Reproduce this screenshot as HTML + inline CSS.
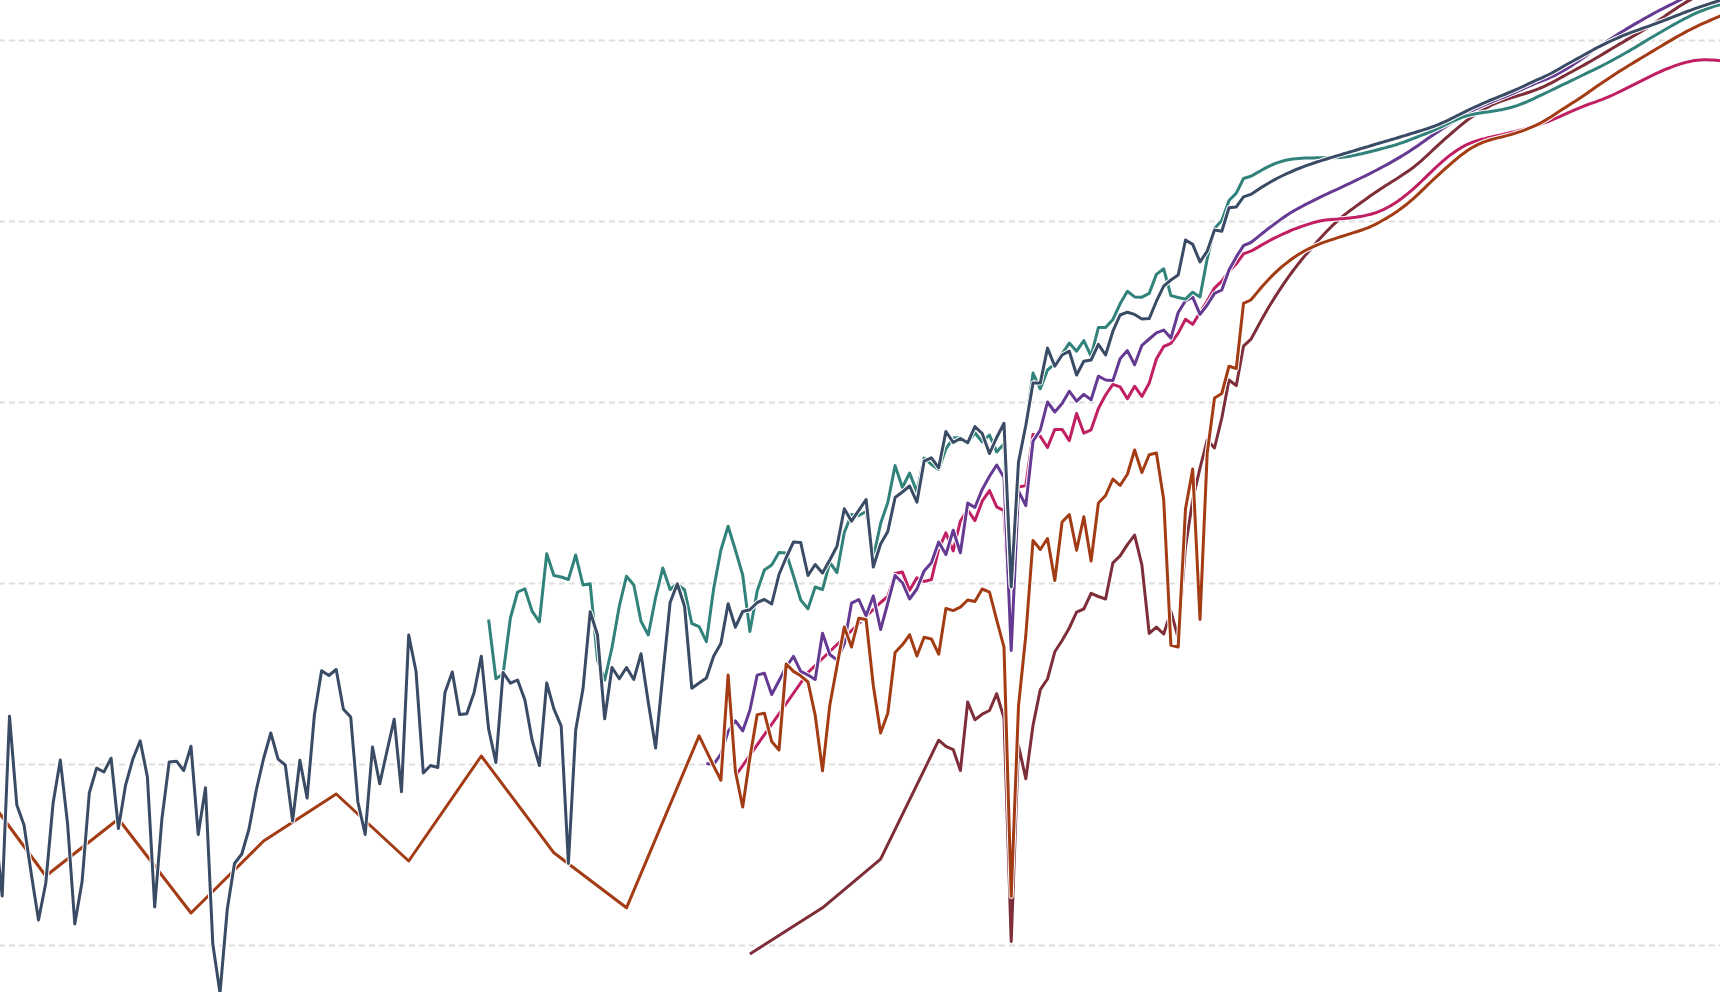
<!DOCTYPE html>
<html lang="en"><head><meta charset="utf-8"><title>Chart</title>
<style>html,body{margin:0;padding:0;background:#fff;overflow:hidden}svg{display:block}</style>
</head><body>
<svg width="1720" height="992" viewBox="0 0 1720 992">
<g stroke="#dedede" stroke-width="2" stroke-dasharray="6 4" stroke-dashoffset="1.2" fill="none">
<line x1="0" y1="40.4" x2="1720" y2="40.4"/>
<line x1="0" y1="221.4" x2="1720" y2="221.4"/>
<line x1="0" y1="402.4" x2="1720" y2="402.4"/>
<line x1="0" y1="583.4" x2="1720" y2="583.4"/>
<line x1="0" y1="764.4" x2="1720" y2="764.4"/>
<line x1="0" y1="945.4" x2="1720" y2="945.4"/>
</g>
<g fill="none" stroke-linejoin="round">
<path d="M749.9,954.0L822.5,907.8L880.6,859.2L938.7,740.2L945.9,746.4L953.2,749.6L960.4,770.5L967.7,702.0L974.9,719.8L982.2,714.2L989.5,710.5L996.7,693.7L1004.0,718.0L1011.2,941.5L1018.5,745.5L1025.8,778.8L1033.0,725.5L1040.3,689.6L1047.5,679.0L1054.8,651.8L1062.1,640.5L1069.3,628.0L1076.6,612.1L1083.8,609.0L1091.1,593.4L1098.4,596.5L1105.6,599.0L1112.9,562.8L1120.1,555.9L1127.4,544.6L1134.6,535.2L1141.9,565.2L1149.2,633.4L1156.4,627.1L1163.7,634.0L1170.9,611.5L1178.2,638.0L1185.5,547.0L1192.7,500.0L1200.0,468.2L1207.2,440.0L1214.5,448.0L1221.8,418.0L1229.0,380.0L1236.3,385.6L1243.5,346.2L1250.8,339.4L1253.8,334.1L1256.8,328.5L1259.8,322.9L1262.8,317.5L1265.8,312.2L1268.8,307.1L1271.8,302.2L1274.8,297.4L1277.8,292.7L1280.8,288.1L1283.8,283.7L1286.8,279.3L1289.8,275.1L1292.8,271.0L1295.8,267.1L1298.8,263.2L1301.8,259.5L1304.8,255.9L1307.8,252.4L1310.8,248.9L1313.8,245.5L1316.8,242.1L1319.8,238.7L1322.8,235.5L1325.8,232.3L1328.8,229.2L1331.8,226.2L1334.8,223.4L1337.8,220.6L1340.8,218.0L1343.8,215.5L1346.8,213.1L1349.8,210.8L1352.8,208.6L1355.8,206.4L1358.8,204.2L1361.8,202.0L1364.8,199.9L1367.8,197.7L1370.8,195.6L1373.8,193.6L1376.8,191.5L1379.8,189.5L1382.8,187.6L1385.8,185.6L1388.8,183.7L1391.8,181.8L1394.8,179.9L1397.8,178.0L1400.8,176.0L1403.8,174.1L1406.8,172.1L1409.8,170.0L1412.8,167.8L1415.8,165.4L1418.8,162.9L1421.8,160.3L1424.8,157.5L1427.8,154.8L1430.8,152.0L1433.8,149.2L1436.8,146.4L1439.8,143.6L1442.8,140.9L1445.8,138.2L1448.8,135.6L1451.8,133.0L1454.8,130.3L1457.8,127.8L1460.8,125.3L1463.8,122.9L1466.8,120.5L1469.8,118.3L1472.8,116.2L1475.8,114.2L1478.8,112.3L1481.8,110.4L1484.8,108.7L1487.8,107.1L1490.8,105.5L1493.8,104.1L1496.8,102.9L1499.8,101.7L1502.8,100.6L1505.8,99.6L1508.8,98.6L1511.8,97.6L1514.8,96.7L1517.8,95.8L1520.8,94.9L1523.8,94.0L1526.8,93.0L1529.8,92.0L1532.8,90.9L1535.8,89.8L1538.8,88.7L1541.8,87.5L1544.8,86.1L1547.8,84.7L1550.8,83.2L1553.8,81.6L1556.8,80.0L1559.8,78.3L1562.8,76.6L1565.8,75.0L1568.8,73.3L1571.8,71.7L1574.8,70.0L1577.8,68.4L1580.8,66.7L1583.8,65.1L1586.8,63.4L1589.8,61.7L1592.8,60.0L1595.8,58.2L1598.8,56.5L1601.8,54.7L1604.8,52.9L1607.8,51.1L1610.8,49.3L1613.8,47.5L1616.8,45.7L1619.8,43.9L1622.8,42.2L1625.8,40.4L1628.8,38.6L1631.8,36.9L1634.8,35.1L1637.8,33.4L1640.8,31.6L1643.8,29.9L1646.8,28.0L1649.8,26.2L1652.8,24.2L1655.8,22.3L1658.8,20.3L1661.8,18.2L1664.8,16.2L1667.8,14.1L1670.8,12.1L1673.8,10.0L1676.8,8.0L1679.8,6.1L1682.8,4.2L1685.8,2.4L1688.8,0.6L1691.8,-1.1L1694.8,-2.9L1697.8,-4.7L1700.8,-6.5L1703.8,-8.3L1706.8,-10.1L1709.8,-11.9" stroke="#fff" stroke-width="5.00"/>
<path d="M749.9,954.0L822.5,907.8L880.6,859.2L938.7,740.2L945.9,746.4L953.2,749.6L960.4,770.5L967.7,702.0L974.9,719.8L982.2,714.2L989.5,710.5L996.7,693.7L1004.0,718.0L1011.2,941.5L1018.5,745.5L1025.8,778.8L1033.0,725.5L1040.3,689.6L1047.5,679.0L1054.8,651.8L1062.1,640.5L1069.3,628.0L1076.6,612.1L1083.8,609.0L1091.1,593.4L1098.4,596.5L1105.6,599.0L1112.9,562.8L1120.1,555.9L1127.4,544.6L1134.6,535.2L1141.9,565.2L1149.2,633.4L1156.4,627.1L1163.7,634.0L1170.9,611.5L1178.2,638.0L1185.5,547.0L1192.7,500.0L1200.0,468.2L1207.2,440.0L1214.5,448.0L1221.8,418.0L1229.0,380.0L1236.3,385.6L1243.5,346.2L1250.8,339.4L1253.8,334.1L1256.8,328.5L1259.8,322.9L1262.8,317.5L1265.8,312.2L1268.8,307.1L1271.8,302.2L1274.8,297.4L1277.8,292.7L1280.8,288.1L1283.8,283.7L1286.8,279.3L1289.8,275.1L1292.8,271.0L1295.8,267.1L1298.8,263.2L1301.8,259.5L1304.8,255.9L1307.8,252.4L1310.8,248.9L1313.8,245.5L1316.8,242.1L1319.8,238.7L1322.8,235.5L1325.8,232.3L1328.8,229.2L1331.8,226.2L1334.8,223.4L1337.8,220.6L1340.8,218.0L1343.8,215.5L1346.8,213.1L1349.8,210.8L1352.8,208.6L1355.8,206.4L1358.8,204.2L1361.8,202.0L1364.8,199.9L1367.8,197.7L1370.8,195.6L1373.8,193.6L1376.8,191.5L1379.8,189.5L1382.8,187.6L1385.8,185.6L1388.8,183.7L1391.8,181.8L1394.8,179.9L1397.8,178.0L1400.8,176.0L1403.8,174.1L1406.8,172.1L1409.8,170.0L1412.8,167.8L1415.8,165.4L1418.8,162.9L1421.8,160.3L1424.8,157.5L1427.8,154.8L1430.8,152.0L1433.8,149.2L1436.8,146.4L1439.8,143.6L1442.8,140.9L1445.8,138.2L1448.8,135.6L1451.8,133.0L1454.8,130.3L1457.8,127.8L1460.8,125.3L1463.8,122.9L1466.8,120.5L1469.8,118.3L1472.8,116.2L1475.8,114.2L1478.8,112.3L1481.8,110.4L1484.8,108.7L1487.8,107.1L1490.8,105.5L1493.8,104.1L1496.8,102.9L1499.8,101.7L1502.8,100.6L1505.8,99.6L1508.8,98.6L1511.8,97.6L1514.8,96.7L1517.8,95.8L1520.8,94.9L1523.8,94.0L1526.8,93.0L1529.8,92.0L1532.8,90.9L1535.8,89.8L1538.8,88.7L1541.8,87.5L1544.8,86.1L1547.8,84.7L1550.8,83.2L1553.8,81.6L1556.8,80.0L1559.8,78.3L1562.8,76.6L1565.8,75.0L1568.8,73.3L1571.8,71.7L1574.8,70.0L1577.8,68.4L1580.8,66.7L1583.8,65.1L1586.8,63.4L1589.8,61.7L1592.8,60.0L1595.8,58.2L1598.8,56.5L1601.8,54.7L1604.8,52.9L1607.8,51.1L1610.8,49.3L1613.8,47.5L1616.8,45.7L1619.8,43.9L1622.8,42.2L1625.8,40.4L1628.8,38.6L1631.8,36.9L1634.8,35.1L1637.8,33.4L1640.8,31.6L1643.8,29.9L1646.8,28.0L1649.8,26.2L1652.8,24.2L1655.8,22.3L1658.8,20.3L1661.8,18.2L1664.8,16.2L1667.8,14.1L1670.8,12.1L1673.8,10.0L1676.8,8.0L1679.8,6.1L1682.8,4.2L1685.8,2.4L1688.8,0.6L1691.8,-1.1L1694.8,-2.9L1697.8,-4.7L1700.8,-6.5L1703.8,-8.3L1706.8,-10.1L1709.8,-11.9" stroke="#7e2e39" stroke-width="3.00"/>
<path d="M735.4,776.0L808.0,672.5L880.6,602.5L887.8,596.5L895.1,573.4L902.4,572.1L909.6,590.2L916.9,577.8L924.1,581.5L931.4,579.6L938.7,549.0L945.9,532.8L953.2,550.9L960.4,521.0L967.7,510.0L974.9,520.6L982.2,501.2L989.5,490.6L996.7,506.9L1004.0,510.6L1011.2,640.0L1018.5,487.0L1025.8,485.6L1033.0,434.4L1040.3,436.2L1047.5,447.5L1054.8,429.4L1062.1,429.4L1069.3,440.6L1076.6,413.5L1083.8,433.1L1091.1,429.8L1098.4,408.5L1105.6,395.0L1112.9,384.4L1120.1,386.9L1127.4,398.8L1134.6,386.2L1141.9,396.5L1149.2,383.1L1156.4,359.0L1163.7,346.5L1170.9,343.4L1178.2,333.1L1185.5,319.2L1192.7,324.4L1200.0,312.5L1207.2,301.0L1214.5,288.1L1221.8,281.2L1229.0,271.2L1236.3,263.8L1243.5,253.8L1250.8,251.2L1253.8,249.6L1256.8,247.9L1259.8,246.1L1262.8,244.4L1265.8,242.7L1268.8,241.0L1271.8,239.4L1274.8,237.9L1277.8,236.5L1280.8,235.0L1283.8,233.6L1286.8,232.3L1289.8,231.0L1292.8,229.7L1295.8,228.6L1298.8,227.5L1301.8,226.4L1304.8,225.4L1307.8,224.4L1310.8,223.4L1313.8,222.5L1316.8,221.7L1319.8,221.0L1322.8,220.5L1325.8,220.1L1328.8,219.7L1331.8,219.4L1334.8,219.2L1337.8,219.0L1340.8,218.7L1343.8,218.5L1346.8,218.2L1349.8,217.9L1352.8,217.6L1355.8,217.2L1358.8,216.7L1361.8,216.2L1364.8,215.6L1367.8,214.9L1370.8,214.2L1373.8,213.3L1376.8,212.3L1379.8,211.1L1382.8,209.9L1385.8,208.4L1388.8,206.8L1391.8,205.1L1394.8,203.2L1397.8,201.2L1400.8,199.1L1403.8,196.8L1406.8,194.4L1409.8,191.9L1412.8,189.3L1415.8,186.6L1418.8,183.8L1421.8,181.0L1424.8,178.1L1427.8,175.2L1430.8,172.3L1433.8,169.4L1436.8,166.5L1439.8,163.8L1442.8,161.2L1445.8,158.6L1448.8,156.2L1451.8,153.9L1454.8,151.8L1457.8,149.8L1460.8,147.9L1463.8,146.2L1466.8,144.7L1469.8,143.4L1472.8,142.2L1475.8,141.1L1478.8,140.2L1481.8,139.3L1484.8,138.6L1487.8,137.8L1490.8,137.1L1493.8,136.4L1496.8,135.7L1499.8,135.1L1502.8,134.4L1505.8,133.7L1508.8,133.0L1511.8,132.3L1514.8,131.6L1517.8,130.8L1520.8,130.0L1523.8,129.2L1526.8,128.4L1529.8,127.5L1532.8,126.6L1535.8,125.6L1538.8,124.7L1541.8,123.7L1544.8,122.6L1547.8,121.6L1550.8,120.4L1553.8,119.2L1556.8,117.9L1559.8,116.6L1562.8,115.2L1565.8,113.8L1568.8,112.5L1571.8,111.1L1574.8,109.8L1577.8,108.6L1580.8,107.4L1583.8,106.2L1586.8,105.0L1589.8,103.9L1592.8,102.8L1595.8,101.8L1598.8,100.7L1601.8,99.6L1604.8,98.4L1607.8,97.2L1610.8,95.9L1613.8,94.5L1616.8,93.0L1619.8,91.6L1622.8,90.1L1625.8,88.6L1628.8,87.1L1631.8,85.6L1634.8,84.1L1637.8,82.6L1640.8,81.1L1643.8,79.6L1646.8,78.1L1649.8,76.6L1652.8,75.1L1655.8,73.7L1658.8,72.3L1661.8,71.0L1664.8,69.7L1667.8,68.5L1670.8,67.4L1673.8,66.2L1676.8,65.2L1679.8,64.2L1682.8,63.2L1685.8,62.4L1688.8,61.7L1691.8,61.1L1694.8,60.6L1697.8,60.2L1700.8,60.0L1703.8,59.8L1706.8,59.8L1709.8,59.9L1712.8,60.0L1715.8,60.3L1718.8,60.6L1721.8,61.0L1724.8,61.4L1727.8,61.9L1730.8,62.4L1733.8,63.0L1736.8,63.5L1739.8,64.0L1742.8,64.6" stroke="#fff" stroke-width="5.00"/>
<path d="M735.4,776.0L808.0,672.5L880.6,602.5L887.8,596.5L895.1,573.4L902.4,572.1L909.6,590.2L916.9,577.8L924.1,581.5L931.4,579.6L938.7,549.0L945.9,532.8L953.2,550.9L960.4,521.0L967.7,510.0L974.9,520.6L982.2,501.2L989.5,490.6L996.7,506.9L1004.0,510.6L1011.2,640.0L1018.5,487.0L1025.8,485.6L1033.0,434.4L1040.3,436.2L1047.5,447.5L1054.8,429.4L1062.1,429.4L1069.3,440.6L1076.6,413.5L1083.8,433.1L1091.1,429.8L1098.4,408.5L1105.6,395.0L1112.9,384.4L1120.1,386.9L1127.4,398.8L1134.6,386.2L1141.9,396.5L1149.2,383.1L1156.4,359.0L1163.7,346.5L1170.9,343.4L1178.2,333.1L1185.5,319.2L1192.7,324.4L1200.0,312.5L1207.2,301.0L1214.5,288.1L1221.8,281.2L1229.0,271.2L1236.3,263.8L1243.5,253.8L1250.8,251.2L1253.8,249.6L1256.8,247.9L1259.8,246.1L1262.8,244.4L1265.8,242.7L1268.8,241.0L1271.8,239.4L1274.8,237.9L1277.8,236.5L1280.8,235.0L1283.8,233.6L1286.8,232.3L1289.8,231.0L1292.8,229.7L1295.8,228.6L1298.8,227.5L1301.8,226.4L1304.8,225.4L1307.8,224.4L1310.8,223.4L1313.8,222.5L1316.8,221.7L1319.8,221.0L1322.8,220.5L1325.8,220.1L1328.8,219.7L1331.8,219.4L1334.8,219.2L1337.8,219.0L1340.8,218.7L1343.8,218.5L1346.8,218.2L1349.8,217.9L1352.8,217.6L1355.8,217.2L1358.8,216.7L1361.8,216.2L1364.8,215.6L1367.8,214.9L1370.8,214.2L1373.8,213.3L1376.8,212.3L1379.8,211.1L1382.8,209.9L1385.8,208.4L1388.8,206.8L1391.8,205.1L1394.8,203.2L1397.8,201.2L1400.8,199.1L1403.8,196.8L1406.8,194.4L1409.8,191.9L1412.8,189.3L1415.8,186.6L1418.8,183.8L1421.8,181.0L1424.8,178.1L1427.8,175.2L1430.8,172.3L1433.8,169.4L1436.8,166.5L1439.8,163.8L1442.8,161.2L1445.8,158.6L1448.8,156.2L1451.8,153.9L1454.8,151.8L1457.8,149.8L1460.8,147.9L1463.8,146.2L1466.8,144.7L1469.8,143.4L1472.8,142.2L1475.8,141.1L1478.8,140.2L1481.8,139.3L1484.8,138.6L1487.8,137.8L1490.8,137.1L1493.8,136.4L1496.8,135.7L1499.8,135.1L1502.8,134.4L1505.8,133.7L1508.8,133.0L1511.8,132.3L1514.8,131.6L1517.8,130.8L1520.8,130.0L1523.8,129.2L1526.8,128.4L1529.8,127.5L1532.8,126.6L1535.8,125.6L1538.8,124.7L1541.8,123.7L1544.8,122.6L1547.8,121.6L1550.8,120.4L1553.8,119.2L1556.8,117.9L1559.8,116.6L1562.8,115.2L1565.8,113.8L1568.8,112.5L1571.8,111.1L1574.8,109.8L1577.8,108.6L1580.8,107.4L1583.8,106.2L1586.8,105.0L1589.8,103.9L1592.8,102.8L1595.8,101.8L1598.8,100.7L1601.8,99.6L1604.8,98.4L1607.8,97.2L1610.8,95.9L1613.8,94.5L1616.8,93.0L1619.8,91.6L1622.8,90.1L1625.8,88.6L1628.8,87.1L1631.8,85.6L1634.8,84.1L1637.8,82.6L1640.8,81.1L1643.8,79.6L1646.8,78.1L1649.8,76.6L1652.8,75.1L1655.8,73.7L1658.8,72.3L1661.8,71.0L1664.8,69.7L1667.8,68.5L1670.8,67.4L1673.8,66.2L1676.8,65.2L1679.8,64.2L1682.8,63.2L1685.8,62.4L1688.8,61.7L1691.8,61.1L1694.8,60.6L1697.8,60.2L1700.8,60.0L1703.8,59.8L1706.8,59.8L1709.8,59.9L1712.8,60.0L1715.8,60.3L1718.8,60.6L1721.8,61.0L1724.8,61.4L1727.8,61.9L1730.8,62.4L1733.8,63.0L1736.8,63.5L1739.8,64.0L1742.8,64.6" stroke="#c01f63" stroke-width="3.00"/>
<path d="M706.4,763.5L713.6,764.6L720.9,754.0L728.1,731.5L735.4,720.9L742.7,730.9L749.9,710.2L757.2,675.1L764.4,673.2L771.7,694.5L779.0,680.8L786.2,667.0L793.5,656.4L800.7,671.4L808.0,675.0L815.2,679.5L822.5,633.2L829.8,654.5L837.0,660.0L844.3,643.9L851.5,603.2L858.8,599.5L866.1,615.8L873.3,596.0L880.6,629.5L887.8,603.0L895.1,575.5L902.4,582.7L909.6,599.0L916.9,589.0L924.1,570.9L931.4,562.8L938.7,542.1L945.9,554.6L953.2,530.2L960.4,552.8L967.7,503.1L974.9,507.5L982.2,489.4L989.5,476.2L996.7,465.0L1004.0,477.5L1011.2,650.5L1018.5,491.0L1025.8,505.6L1033.0,441.2L1040.3,430.0L1047.5,402.0L1054.8,412.0L1062.1,403.5L1069.3,391.2L1076.6,401.2L1083.8,394.4L1091.1,399.8L1098.4,376.2L1105.6,380.0L1112.9,380.6L1120.1,358.8L1127.4,350.6L1134.6,364.8L1141.9,345.3L1149.2,339.0L1156.4,332.8L1163.7,330.1L1170.9,338.1L1178.2,312.5L1185.5,300.8L1192.7,297.2L1200.0,314.4L1207.2,305.0L1214.5,293.4L1221.8,290.0L1229.0,270.0L1236.3,256.9L1243.5,245.6L1250.8,242.5L1253.8,240.2L1256.8,237.8L1259.8,235.4L1262.8,233.0L1265.8,230.6L1268.8,228.3L1271.8,226.1L1274.8,223.8L1277.8,221.6L1280.8,219.4L1283.8,217.3L1286.8,215.2L1289.8,213.3L1292.8,211.4L1295.8,209.7L1298.8,208.1L1301.8,206.5L1304.8,204.9L1307.8,203.3L1310.8,201.8L1313.8,200.3L1316.8,198.8L1319.8,197.3L1322.8,195.9L1325.8,194.5L1328.8,193.1L1331.8,191.7L1334.8,190.4L1337.8,189.0L1340.8,187.6L1343.8,186.2L1346.8,184.7L1349.8,183.3L1352.8,181.9L1355.8,180.4L1358.8,179.0L1361.8,177.5L1364.8,176.1L1367.8,174.6L1370.8,173.1L1373.8,171.5L1376.8,170.0L1379.8,168.4L1382.8,166.8L1385.8,165.2L1388.8,163.6L1391.8,161.9L1394.8,160.1L1397.8,158.4L1400.8,156.6L1403.8,154.8L1406.8,152.9L1409.8,151.0L1412.8,149.0L1415.8,147.0L1418.8,144.9L1421.8,142.8L1424.8,140.7L1427.8,138.5L1430.8,136.4L1433.8,134.4L1436.8,132.4L1439.8,130.4L1442.8,128.5L1445.8,126.7L1448.8,124.8L1451.8,122.9L1454.8,120.9L1457.8,118.9L1460.8,117.0L1463.8,115.2L1466.8,113.5L1469.8,111.9L1472.8,110.4L1475.8,109.0L1478.8,107.6L1481.8,106.2L1484.8,104.9L1487.8,103.6L1490.8,102.3L1493.8,101.1L1496.8,99.9L1499.8,98.7L1502.8,97.5L1505.8,96.3L1508.8,95.0L1511.8,93.8L1514.8,92.5L1517.8,91.2L1520.8,89.8L1523.8,88.5L1526.8,87.1L1529.8,85.8L1532.8,84.5L1535.8,83.2L1538.8,82.0L1541.8,80.9L1544.8,79.8L1547.8,78.6L1550.8,77.2L1553.8,75.8L1556.8,74.3L1559.8,72.6L1562.8,71.0L1565.8,69.2L1568.8,67.4L1571.8,65.6L1574.8,63.6L1577.8,61.6L1580.8,59.6L1583.8,57.5L1586.8,55.3L1589.8,53.1L1592.8,51.0L1595.8,48.8L1598.8,46.7L1601.8,44.7L1604.8,42.7L1607.8,40.7L1610.8,38.8L1613.8,36.9L1616.8,35.0L1619.8,33.1L1622.8,31.3L1625.8,29.4L1628.8,27.6L1631.8,25.9L1634.8,24.1L1637.8,22.4L1640.8,20.7L1643.8,18.9L1646.8,17.3L1649.8,15.6L1652.8,13.9L1655.8,12.3L1658.8,10.7L1661.8,9.2L1664.8,7.6L1667.8,6.1L1670.8,4.6L1673.8,3.1L1676.8,1.6L1679.8,0.1L1682.8,-1.4L1685.8,-2.9L1688.8,-4.4L1691.8,-5.9L1694.8,-7.4L1697.8,-8.9" stroke="#fff" stroke-width="5.00"/>
<path d="M706.4,763.5L713.6,764.6L720.9,754.0L728.1,731.5L735.4,720.9L742.7,730.9L749.9,710.2L757.2,675.1L764.4,673.2L771.7,694.5L779.0,680.8L786.2,667.0L793.5,656.4L800.7,671.4L808.0,675.0L815.2,679.5L822.5,633.2L829.8,654.5L837.0,660.0L844.3,643.9L851.5,603.2L858.8,599.5L866.1,615.8L873.3,596.0L880.6,629.5L887.8,603.0L895.1,575.5L902.4,582.7L909.6,599.0L916.9,589.0L924.1,570.9L931.4,562.8L938.7,542.1L945.9,554.6L953.2,530.2L960.4,552.8L967.7,503.1L974.9,507.5L982.2,489.4L989.5,476.2L996.7,465.0L1004.0,477.5L1011.2,650.5L1018.5,491.0L1025.8,505.6L1033.0,441.2L1040.3,430.0L1047.5,402.0L1054.8,412.0L1062.1,403.5L1069.3,391.2L1076.6,401.2L1083.8,394.4L1091.1,399.8L1098.4,376.2L1105.6,380.0L1112.9,380.6L1120.1,358.8L1127.4,350.6L1134.6,364.8L1141.9,345.3L1149.2,339.0L1156.4,332.8L1163.7,330.1L1170.9,338.1L1178.2,312.5L1185.5,300.8L1192.7,297.2L1200.0,314.4L1207.2,305.0L1214.5,293.4L1221.8,290.0L1229.0,270.0L1236.3,256.9L1243.5,245.6L1250.8,242.5L1253.8,240.2L1256.8,237.8L1259.8,235.4L1262.8,233.0L1265.8,230.6L1268.8,228.3L1271.8,226.1L1274.8,223.8L1277.8,221.6L1280.8,219.4L1283.8,217.3L1286.8,215.2L1289.8,213.3L1292.8,211.4L1295.8,209.7L1298.8,208.1L1301.8,206.5L1304.8,204.9L1307.8,203.3L1310.8,201.8L1313.8,200.3L1316.8,198.8L1319.8,197.3L1322.8,195.9L1325.8,194.5L1328.8,193.1L1331.8,191.7L1334.8,190.4L1337.8,189.0L1340.8,187.6L1343.8,186.2L1346.8,184.7L1349.8,183.3L1352.8,181.9L1355.8,180.4L1358.8,179.0L1361.8,177.5L1364.8,176.1L1367.8,174.6L1370.8,173.1L1373.8,171.5L1376.8,170.0L1379.8,168.4L1382.8,166.8L1385.8,165.2L1388.8,163.6L1391.8,161.9L1394.8,160.1L1397.8,158.4L1400.8,156.6L1403.8,154.8L1406.8,152.9L1409.8,151.0L1412.8,149.0L1415.8,147.0L1418.8,144.9L1421.8,142.8L1424.8,140.7L1427.8,138.5L1430.8,136.4L1433.8,134.4L1436.8,132.4L1439.8,130.4L1442.8,128.5L1445.8,126.7L1448.8,124.8L1451.8,122.9L1454.8,120.9L1457.8,118.9L1460.8,117.0L1463.8,115.2L1466.8,113.5L1469.8,111.9L1472.8,110.4L1475.8,109.0L1478.8,107.6L1481.8,106.2L1484.8,104.9L1487.8,103.6L1490.8,102.3L1493.8,101.1L1496.8,99.9L1499.8,98.7L1502.8,97.5L1505.8,96.3L1508.8,95.0L1511.8,93.8L1514.8,92.5L1517.8,91.2L1520.8,89.8L1523.8,88.5L1526.8,87.1L1529.8,85.8L1532.8,84.5L1535.8,83.2L1538.8,82.0L1541.8,80.9L1544.8,79.8L1547.8,78.6L1550.8,77.2L1553.8,75.8L1556.8,74.3L1559.8,72.6L1562.8,71.0L1565.8,69.2L1568.8,67.4L1571.8,65.6L1574.8,63.6L1577.8,61.6L1580.8,59.6L1583.8,57.5L1586.8,55.3L1589.8,53.1L1592.8,51.0L1595.8,48.8L1598.8,46.7L1601.8,44.7L1604.8,42.7L1607.8,40.7L1610.8,38.8L1613.8,36.9L1616.8,35.0L1619.8,33.1L1622.8,31.3L1625.8,29.4L1628.8,27.6L1631.8,25.9L1634.8,24.1L1637.8,22.4L1640.8,20.7L1643.8,18.9L1646.8,17.3L1649.8,15.6L1652.8,13.9L1655.8,12.3L1658.8,10.7L1661.8,9.2L1664.8,7.6L1667.8,6.1L1670.8,4.6L1673.8,3.1L1676.8,1.6L1679.8,0.1L1682.8,-1.4L1685.8,-2.9L1688.8,-4.4L1691.8,-5.9L1694.8,-7.4L1697.8,-8.9" stroke="#653a92" stroke-width="3.00"/>
<path d="M-26.8,777.5L45.8,876.0L118.4,819.0L191.0,913.0L263.6,841.0L336.2,794.0L408.7,861.0L481.3,756.0L553.9,852.8L626.5,907.8L699.1,735.9L706.4,750.8L713.6,765.8L720.9,780.2L728.1,675.0L735.4,771.5L742.7,807.0L749.9,757.8L757.2,714.6L764.4,713.2L771.7,741.5L779.0,750.0L786.2,664.0L793.5,671.4L800.7,675.8L808.0,682.0L815.2,715.2L822.5,770.8L829.8,705.2L837.0,666.0L844.3,627.0L851.5,647.0L858.8,618.2L866.1,619.5L873.3,685.5L880.6,733.0L887.8,713.2L895.1,652.5L902.4,644.8L909.6,634.8L916.9,656.0L924.1,637.3L931.4,639.0L938.7,654.2L945.9,608.4L953.2,610.6L960.4,607.1L967.7,600.0L974.9,601.5L982.2,589.0L989.5,592.1L996.7,620.0L1004.0,647.2L1011.2,896.5L1018.5,706.0L1025.8,635.5L1033.0,540.5L1040.3,549.5L1047.5,538.5L1054.8,580.5L1062.1,522.0L1069.3,514.5L1076.6,550.2L1083.8,516.8L1091.1,561.0L1098.4,503.0L1105.6,495.5L1112.9,479.0L1120.1,485.5L1127.4,474.2L1134.6,450.0L1141.9,472.5L1149.2,454.7L1156.4,453.0L1163.7,499.5L1170.9,645.2L1178.2,647.0L1185.5,509.0L1192.7,469.0L1200.0,619.5L1207.2,453.5L1214.5,398.1L1221.8,393.5L1229.0,366.2L1236.3,368.5L1243.5,303.4L1250.8,300.0L1253.8,296.5L1256.8,292.9L1259.8,289.3L1262.8,285.8L1265.8,282.5L1268.8,279.2L1271.8,276.1L1274.8,273.2L1277.8,270.4L1280.8,267.7L1283.8,265.2L1286.8,262.8L1289.8,260.5L1292.8,258.3L1295.8,256.2L1298.8,254.3L1301.8,252.5L1304.8,250.8L1307.8,249.2L1310.8,247.8L1313.8,246.4L1316.8,245.1L1319.8,243.9L1322.8,242.7L1325.8,241.7L1328.8,240.6L1331.8,239.6L1334.8,238.7L1337.8,237.7L1340.8,236.7L1343.8,235.8L1346.8,234.8L1349.8,233.9L1352.8,232.9L1355.8,232.0L1358.8,231.0L1361.8,230.0L1364.8,228.9L1367.8,227.8L1370.8,226.5L1373.8,225.1L1376.8,223.6L1379.8,222.0L1382.8,220.3L1385.8,218.6L1388.8,216.8L1391.8,214.9L1394.8,212.9L1397.8,210.9L1400.8,208.7L1403.8,206.5L1406.8,204.2L1409.8,201.7L1412.8,199.1L1415.8,196.4L1418.8,193.6L1421.8,190.7L1424.8,187.8L1427.8,184.9L1430.8,182.0L1433.8,179.2L1436.8,176.4L1439.8,173.6L1442.8,170.9L1445.8,168.2L1448.8,165.6L1451.8,162.9L1454.8,160.4L1457.8,157.9L1460.8,155.4L1463.8,153.2L1466.8,151.0L1469.8,149.1L1472.8,147.2L1475.8,145.6L1478.8,144.1L1481.8,142.8L1484.8,141.7L1487.8,140.6L1490.8,139.7L1493.8,138.9L1496.8,138.1L1499.8,137.4L1502.8,136.7L1505.8,135.9L1508.8,135.1L1511.8,134.3L1514.8,133.4L1517.8,132.4L1520.8,131.4L1523.8,130.3L1526.8,129.2L1529.8,127.9L1532.8,126.7L1535.8,125.3L1538.8,123.8L1541.8,122.3L1544.8,120.6L1547.8,118.8L1550.8,117.0L1553.8,115.0L1556.8,113.1L1559.8,111.1L1562.8,109.1L1565.8,107.2L1568.8,105.2L1571.8,103.3L1574.8,101.4L1577.8,99.5L1580.8,97.5L1583.8,95.4L1586.8,93.4L1589.8,91.3L1592.8,89.2L1595.8,87.1L1598.8,85.0L1601.8,83.0L1604.8,81.0L1607.8,79.0L1610.8,77.0L1613.8,75.0L1616.8,73.1L1619.8,71.1L1622.8,69.3L1625.8,67.4L1628.8,65.5L1631.8,63.7L1634.8,61.9L1637.8,60.1L1640.8,58.3L1643.8,56.5L1646.8,54.7L1649.8,52.9L1652.8,51.1L1655.8,49.3L1658.8,47.5L1661.8,45.7L1664.8,43.9L1667.8,42.1L1670.8,40.4L1673.8,38.6L1676.8,36.9L1679.8,35.2L1682.8,33.6L1685.8,31.9L1688.8,30.3L1691.8,28.8L1694.8,27.3L1697.8,25.8L1700.8,24.4L1703.8,23.1L1706.8,21.8L1709.8,20.5L1712.8,19.2L1715.8,17.9L1718.8,16.6L1721.8,15.3L1724.8,14.1L1727.8,12.9L1730.8,11.7L1733.8,10.5L1736.8,9.3L1739.8,8.1L1742.8,6.9" stroke="#fff" stroke-width="5.00"/>
<path d="M-26.8,777.5L45.8,876.0L118.4,819.0L191.0,913.0L263.6,841.0L336.2,794.0L408.7,861.0L481.3,756.0L553.9,852.8L626.5,907.8L699.1,735.9L706.4,750.8L713.6,765.8L720.9,780.2L728.1,675.0L735.4,771.5L742.7,807.0L749.9,757.8L757.2,714.6L764.4,713.2L771.7,741.5L779.0,750.0L786.2,664.0L793.5,671.4L800.7,675.8L808.0,682.0L815.2,715.2L822.5,770.8L829.8,705.2L837.0,666.0L844.3,627.0L851.5,647.0L858.8,618.2L866.1,619.5L873.3,685.5L880.6,733.0L887.8,713.2L895.1,652.5L902.4,644.8L909.6,634.8L916.9,656.0L924.1,637.3L931.4,639.0L938.7,654.2L945.9,608.4L953.2,610.6L960.4,607.1L967.7,600.0L974.9,601.5L982.2,589.0L989.5,592.1L996.7,620.0L1004.0,647.2L1011.2,896.5L1018.5,706.0L1025.8,635.5L1033.0,540.5L1040.3,549.5L1047.5,538.5L1054.8,580.5L1062.1,522.0L1069.3,514.5L1076.6,550.2L1083.8,516.8L1091.1,561.0L1098.4,503.0L1105.6,495.5L1112.9,479.0L1120.1,485.5L1127.4,474.2L1134.6,450.0L1141.9,472.5L1149.2,454.7L1156.4,453.0L1163.7,499.5L1170.9,645.2L1178.2,647.0L1185.5,509.0L1192.7,469.0L1200.0,619.5L1207.2,453.5L1214.5,398.1L1221.8,393.5L1229.0,366.2L1236.3,368.5L1243.5,303.4L1250.8,300.0L1253.8,296.5L1256.8,292.9L1259.8,289.3L1262.8,285.8L1265.8,282.5L1268.8,279.2L1271.8,276.1L1274.8,273.2L1277.8,270.4L1280.8,267.7L1283.8,265.2L1286.8,262.8L1289.8,260.5L1292.8,258.3L1295.8,256.2L1298.8,254.3L1301.8,252.5L1304.8,250.8L1307.8,249.2L1310.8,247.8L1313.8,246.4L1316.8,245.1L1319.8,243.9L1322.8,242.7L1325.8,241.7L1328.8,240.6L1331.8,239.6L1334.8,238.7L1337.8,237.7L1340.8,236.7L1343.8,235.8L1346.8,234.8L1349.8,233.9L1352.8,232.9L1355.8,232.0L1358.8,231.0L1361.8,230.0L1364.8,228.9L1367.8,227.8L1370.8,226.5L1373.8,225.1L1376.8,223.6L1379.8,222.0L1382.8,220.3L1385.8,218.6L1388.8,216.8L1391.8,214.9L1394.8,212.9L1397.8,210.9L1400.8,208.7L1403.8,206.5L1406.8,204.2L1409.8,201.7L1412.8,199.1L1415.8,196.4L1418.8,193.6L1421.8,190.7L1424.8,187.8L1427.8,184.9L1430.8,182.0L1433.8,179.2L1436.8,176.4L1439.8,173.6L1442.8,170.9L1445.8,168.2L1448.8,165.6L1451.8,162.9L1454.8,160.4L1457.8,157.9L1460.8,155.4L1463.8,153.2L1466.8,151.0L1469.8,149.1L1472.8,147.2L1475.8,145.6L1478.8,144.1L1481.8,142.8L1484.8,141.7L1487.8,140.6L1490.8,139.7L1493.8,138.9L1496.8,138.1L1499.8,137.4L1502.8,136.7L1505.8,135.9L1508.8,135.1L1511.8,134.3L1514.8,133.4L1517.8,132.4L1520.8,131.4L1523.8,130.3L1526.8,129.2L1529.8,127.9L1532.8,126.7L1535.8,125.3L1538.8,123.8L1541.8,122.3L1544.8,120.6L1547.8,118.8L1550.8,117.0L1553.8,115.0L1556.8,113.1L1559.8,111.1L1562.8,109.1L1565.8,107.2L1568.8,105.2L1571.8,103.3L1574.8,101.4L1577.8,99.5L1580.8,97.5L1583.8,95.4L1586.8,93.4L1589.8,91.3L1592.8,89.2L1595.8,87.1L1598.8,85.0L1601.8,83.0L1604.8,81.0L1607.8,79.0L1610.8,77.0L1613.8,75.0L1616.8,73.1L1619.8,71.1L1622.8,69.3L1625.8,67.4L1628.8,65.5L1631.8,63.7L1634.8,61.9L1637.8,60.1L1640.8,58.3L1643.8,56.5L1646.8,54.7L1649.8,52.9L1652.8,51.1L1655.8,49.3L1658.8,47.5L1661.8,45.7L1664.8,43.9L1667.8,42.1L1670.8,40.4L1673.8,38.6L1676.8,36.9L1679.8,35.2L1682.8,33.6L1685.8,31.9L1688.8,30.3L1691.8,28.8L1694.8,27.3L1697.8,25.8L1700.8,24.4L1703.8,23.1L1706.8,21.8L1709.8,20.5L1712.8,19.2L1715.8,17.9L1718.8,16.6L1721.8,15.3L1724.8,14.1L1727.8,12.9L1730.8,11.7L1733.8,10.5L1736.8,9.3L1739.8,8.1L1742.8,6.9" stroke="#a33c14" stroke-width="3.00"/>
<path d="M488.6,619.5L495.9,678.8L503.1,674.0L510.4,618.0L517.6,592.0L524.9,588.8L532.1,611.2L539.4,621.8L546.7,553.8L553.9,575.5L561.2,577.0L568.4,579.5L575.7,555.0L583.0,585.0L590.2,583.8L597.5,660.0L604.7,680.0L612.0,647.5L619.3,606.2L626.5,576.2L633.8,585.0L641.0,621.2L648.3,635.0L655.6,597.5L662.8,568.0L670.1,589.5L677.3,583.8L684.6,590.0L691.8,623.5L699.1,626.6L706.4,641.6L713.6,589.0L720.9,550.0L728.1,526.2L735.4,550.0L742.7,575.0L749.9,631.6L757.2,591.0L764.4,570.0L771.7,565.0L779.0,552.5L786.2,553.0L793.5,576.0L800.7,600.0L808.0,608.8L815.2,587.0L822.5,589.5L829.8,562.5L837.0,572.5L844.3,532.5L851.5,514.5L858.8,515.5L866.1,511.5L873.3,558.0L880.6,523.5L887.8,502.5L895.1,465.6L902.4,487.5L909.6,473.1L916.9,491.9L924.1,458.1L931.4,464.4L938.7,469.4L945.9,448.8L953.2,438.1L960.4,437.5L967.7,442.5L974.9,432.8L982.2,441.9L989.5,435.0L996.7,451.9L1004.0,443.8L1011.2,585.0L1018.5,462.0L1025.8,424.0L1033.0,373.1L1040.3,388.8L1047.5,370.0L1054.8,363.8L1062.1,353.8L1069.3,343.1L1076.6,351.2L1083.8,340.6L1091.1,356.2L1098.4,327.5L1105.6,327.5L1112.9,319.4L1120.1,303.8L1127.4,291.2L1134.6,296.9L1141.9,297.2L1149.2,293.4L1156.4,274.4L1163.7,268.8L1170.9,295.6L1178.2,297.5L1185.5,299.1L1192.7,292.2L1200.0,296.9L1207.2,258.8L1214.5,228.5L1221.8,220.6L1229.0,200.5L1236.3,193.1L1243.5,178.5L1250.8,176.2L1253.8,174.6L1256.8,172.9L1259.8,171.2L1262.8,169.5L1265.8,167.9L1268.8,166.4L1271.8,165.0L1274.8,163.7L1277.8,162.6L1280.8,161.6L1283.8,160.7L1286.8,160.0L1289.8,159.5L1292.8,159.0L1295.8,158.7L1298.8,158.4L1301.8,158.2L1304.8,158.1L1307.8,158.0L1310.8,157.9L1313.8,157.9L1316.8,157.8L1319.8,157.8L1322.8,157.7L1325.8,157.7L1328.8,157.7L1331.8,157.7L1334.8,157.7L1337.8,157.6L1340.8,157.4L1343.8,157.1L1346.8,156.7L1349.8,156.2L1352.8,155.6L1355.8,155.0L1358.8,154.3L1361.8,153.7L1364.8,153.0L1367.8,152.3L1370.8,151.5L1373.8,150.8L1376.8,150.0L1379.8,149.2L1382.8,148.4L1385.8,147.6L1388.8,146.8L1391.8,146.0L1394.8,145.1L1397.8,144.2L1400.8,143.2L1403.8,142.1L1406.8,141.0L1409.8,139.8L1412.8,138.6L1415.8,137.5L1418.8,136.3L1421.8,135.2L1424.8,134.0L1427.8,132.8L1430.8,131.6L1433.8,130.4L1436.8,129.0L1439.8,127.6L1442.8,126.2L1445.8,124.7L1448.8,123.2L1451.8,121.7L1454.8,120.3L1457.8,119.0L1460.8,117.8L1463.8,116.7L1466.8,115.8L1469.8,115.1L1472.8,114.4L1475.8,113.8L1478.8,113.3L1481.8,112.8L1484.8,112.3L1487.8,111.9L1490.8,111.4L1493.8,110.9L1496.8,110.5L1499.8,109.9L1502.8,109.4L1505.8,108.7L1508.8,108.0L1511.8,107.2L1514.8,106.3L1517.8,105.3L1520.8,104.2L1523.8,103.0L1526.8,101.8L1529.8,100.4L1532.8,99.1L1535.8,97.7L1538.8,96.2L1541.8,94.8L1544.8,93.4L1547.8,92.0L1550.8,90.5L1553.8,89.1L1556.8,87.6L1559.8,86.2L1562.8,84.7L1565.8,83.3L1568.8,81.9L1571.8,80.4L1574.8,79.0L1577.8,77.5L1580.8,76.0L1583.8,74.6L1586.8,73.1L1589.8,71.7L1592.8,70.3L1595.8,68.9L1598.8,67.4L1601.8,65.9L1604.8,64.3L1607.8,62.7L1610.8,61.1L1613.8,59.5L1616.8,57.8L1619.8,56.2L1622.8,54.5L1625.8,52.8L1628.8,51.1L1631.8,49.3L1634.8,47.6L1637.8,45.8L1640.8,43.9L1643.8,42.1L1646.8,40.3L1649.8,38.5L1652.8,36.7L1655.8,35.0L1658.8,33.2L1661.8,31.5L1664.8,29.7L1667.8,28.0L1670.8,26.3L1673.8,24.6L1676.8,23.0L1679.8,21.3L1682.8,19.7L1685.8,18.2L1688.8,16.6L1691.8,15.2L1694.8,13.7L1697.8,12.4L1700.8,11.2L1703.8,10.0L1706.8,8.9L1709.8,7.9L1712.8,6.9L1715.8,5.9L1718.8,5.1L1721.8,4.2L1724.8,3.5L1727.8,2.8L1730.8,2.1L1733.8,1.4L1736.8,0.8L1739.8,0.1L1742.8,-0.5" stroke="#fff" stroke-width="5.00"/>
<path d="M488.6,619.5L495.9,678.8L503.1,674.0L510.4,618.0L517.6,592.0L524.9,588.8L532.1,611.2L539.4,621.8L546.7,553.8L553.9,575.5L561.2,577.0L568.4,579.5L575.7,555.0L583.0,585.0L590.2,583.8L597.5,660.0L604.7,680.0L612.0,647.5L619.3,606.2L626.5,576.2L633.8,585.0L641.0,621.2L648.3,635.0L655.6,597.5L662.8,568.0L670.1,589.5L677.3,583.8L684.6,590.0L691.8,623.5L699.1,626.6L706.4,641.6L713.6,589.0L720.9,550.0L728.1,526.2L735.4,550.0L742.7,575.0L749.9,631.6L757.2,591.0L764.4,570.0L771.7,565.0L779.0,552.5L786.2,553.0L793.5,576.0L800.7,600.0L808.0,608.8L815.2,587.0L822.5,589.5L829.8,562.5L837.0,572.5L844.3,532.5L851.5,514.5L858.8,515.5L866.1,511.5L873.3,558.0L880.6,523.5L887.8,502.5L895.1,465.6L902.4,487.5L909.6,473.1L916.9,491.9L924.1,458.1L931.4,464.4L938.7,469.4L945.9,448.8L953.2,438.1L960.4,437.5L967.7,442.5L974.9,432.8L982.2,441.9L989.5,435.0L996.7,451.9L1004.0,443.8L1011.2,585.0L1018.5,462.0L1025.8,424.0L1033.0,373.1L1040.3,388.8L1047.5,370.0L1054.8,363.8L1062.1,353.8L1069.3,343.1L1076.6,351.2L1083.8,340.6L1091.1,356.2L1098.4,327.5L1105.6,327.5L1112.9,319.4L1120.1,303.8L1127.4,291.2L1134.6,296.9L1141.9,297.2L1149.2,293.4L1156.4,274.4L1163.7,268.8L1170.9,295.6L1178.2,297.5L1185.5,299.1L1192.7,292.2L1200.0,296.9L1207.2,258.8L1214.5,228.5L1221.8,220.6L1229.0,200.5L1236.3,193.1L1243.5,178.5L1250.8,176.2L1253.8,174.6L1256.8,172.9L1259.8,171.2L1262.8,169.5L1265.8,167.9L1268.8,166.4L1271.8,165.0L1274.8,163.7L1277.8,162.6L1280.8,161.6L1283.8,160.7L1286.8,160.0L1289.8,159.5L1292.8,159.0L1295.8,158.7L1298.8,158.4L1301.8,158.2L1304.8,158.1L1307.8,158.0L1310.8,157.9L1313.8,157.9L1316.8,157.8L1319.8,157.8L1322.8,157.7L1325.8,157.7L1328.8,157.7L1331.8,157.7L1334.8,157.7L1337.8,157.6L1340.8,157.4L1343.8,157.1L1346.8,156.7L1349.8,156.2L1352.8,155.6L1355.8,155.0L1358.8,154.3L1361.8,153.7L1364.8,153.0L1367.8,152.3L1370.8,151.5L1373.8,150.8L1376.8,150.0L1379.8,149.2L1382.8,148.4L1385.8,147.6L1388.8,146.8L1391.8,146.0L1394.8,145.1L1397.8,144.2L1400.8,143.2L1403.8,142.1L1406.8,141.0L1409.8,139.8L1412.8,138.6L1415.8,137.5L1418.8,136.3L1421.8,135.2L1424.8,134.0L1427.8,132.8L1430.8,131.6L1433.8,130.4L1436.8,129.0L1439.8,127.6L1442.8,126.2L1445.8,124.7L1448.8,123.2L1451.8,121.7L1454.8,120.3L1457.8,119.0L1460.8,117.8L1463.8,116.7L1466.8,115.8L1469.8,115.1L1472.8,114.4L1475.8,113.8L1478.8,113.3L1481.8,112.8L1484.8,112.3L1487.8,111.9L1490.8,111.4L1493.8,110.9L1496.8,110.5L1499.8,109.9L1502.8,109.4L1505.8,108.7L1508.8,108.0L1511.8,107.2L1514.8,106.3L1517.8,105.3L1520.8,104.2L1523.8,103.0L1526.8,101.8L1529.8,100.4L1532.8,99.1L1535.8,97.7L1538.8,96.2L1541.8,94.8L1544.8,93.4L1547.8,92.0L1550.8,90.5L1553.8,89.1L1556.8,87.6L1559.8,86.2L1562.8,84.7L1565.8,83.3L1568.8,81.9L1571.8,80.4L1574.8,79.0L1577.8,77.5L1580.8,76.0L1583.8,74.6L1586.8,73.1L1589.8,71.7L1592.8,70.3L1595.8,68.9L1598.8,67.4L1601.8,65.9L1604.8,64.3L1607.8,62.7L1610.8,61.1L1613.8,59.5L1616.8,57.8L1619.8,56.2L1622.8,54.5L1625.8,52.8L1628.8,51.1L1631.8,49.3L1634.8,47.6L1637.8,45.8L1640.8,43.9L1643.8,42.1L1646.8,40.3L1649.8,38.5L1652.8,36.7L1655.8,35.0L1658.8,33.2L1661.8,31.5L1664.8,29.7L1667.8,28.0L1670.8,26.3L1673.8,24.6L1676.8,23.0L1679.8,21.3L1682.8,19.7L1685.8,18.2L1688.8,16.6L1691.8,15.2L1694.8,13.7L1697.8,12.4L1700.8,11.2L1703.8,10.0L1706.8,8.9L1709.8,7.9L1712.8,6.9L1715.8,5.9L1718.8,5.1L1721.8,4.2L1724.8,3.5L1727.8,2.8L1730.8,2.1L1733.8,1.4L1736.8,0.8L1739.8,0.1L1742.8,-0.5" stroke="#31827a" stroke-width="3.00"/>
<path d="M-5.0,825.0L2.2,896.0L9.5,716.2L16.8,805.0L24.0,825.0L31.3,874.0L38.5,920.0L45.8,883.0L53.1,803.0L60.3,760.0L67.6,824.0L74.8,924.0L82.1,881.5L89.3,793.0L96.6,768.2L103.9,772.0L111.1,758.2L118.4,828.5L125.6,785.0L132.9,759.0L140.2,740.8L147.4,777.0L154.7,907.0L161.9,819.0L169.2,762.0L176.5,761.2L183.7,770.5L191.0,746.2L198.2,834.5L205.5,787.8L212.8,944.0L220.0,993.0L227.3,909.0L234.5,863.5L241.8,854.0L249.0,829.0L256.3,790.0L263.6,758.5L270.8,733.0L278.1,759.2L285.3,765.0L292.6,821.0L299.9,760.2L307.1,798.0L314.4,715.0L321.6,670.8L328.9,675.5L336.2,669.5L343.4,709.2L350.7,717.0L357.9,802.0L365.2,834.5L372.5,747.0L379.7,783.8L387.0,751.0L394.2,719.2L401.5,791.8L408.7,635.0L416.0,671.2L423.3,773.0L430.5,765.5L437.8,767.5L445.0,692.5L452.3,672.0L459.6,714.5L466.8,713.8L474.1,692.5L481.3,656.2L488.6,728.8L495.9,762.5L503.1,672.5L510.4,683.2L517.6,680.0L524.9,700.0L532.1,740.0L539.4,765.5L546.7,683.0L553.9,708.8L561.2,726.2L568.4,863.5L575.7,730.0L583.0,688.8L590.2,611.8L597.5,635.0L604.7,718.8L612.0,667.5L619.3,678.8L626.5,667.5L633.8,679.5L641.0,653.8L648.3,702.5L655.6,748.0L662.8,675.0L670.1,602.5L677.3,583.8L684.6,606.5L691.8,688.2L699.1,683.0L706.4,678.0L713.6,656.2L720.9,643.5L728.1,603.8L735.4,627.2L742.7,611.5L749.9,609.8L757.2,602.5L764.4,599.5L771.7,604.0L779.0,574.5L786.2,557.5L793.5,542.0L800.7,542.5L808.0,575.5L815.2,564.5L822.5,573.0L829.8,560.0L837.0,546.2L844.3,508.8L851.5,521.2L858.8,510.4L866.1,499.5L873.3,567.0L880.6,544.0L887.8,531.5L895.1,497.5L902.4,492.0L909.6,486.0L916.9,502.2L924.1,461.2L931.4,457.8L938.7,467.8L945.9,431.5L953.2,442.5L960.4,438.5L967.7,442.8L974.9,426.6L982.2,433.5L989.5,453.5L996.7,437.5L1004.0,423.3L1011.2,587.0L1018.5,462.0L1025.8,425.5L1033.0,383.1L1040.3,383.1L1047.5,348.1L1054.8,366.2L1062.1,355.0L1069.3,351.2L1076.6,375.0L1083.8,361.2L1091.1,360.0L1098.4,344.4L1105.6,355.0L1112.9,331.2L1120.1,315.0L1127.4,312.2L1134.6,314.4L1141.9,319.0L1149.2,318.6L1156.4,301.2L1163.7,286.2L1170.9,280.0L1178.2,275.0L1185.5,240.0L1192.7,244.4L1200.0,261.9L1207.2,251.2L1214.5,230.0L1221.8,231.2L1229.0,207.8L1236.3,206.9L1243.5,196.9L1250.8,194.4L1253.8,192.5L1256.8,190.5L1259.8,188.6L1262.8,186.6L1265.8,184.8L1268.8,183.0L1271.8,181.2L1274.8,179.6L1277.8,178.0L1280.8,176.5L1283.8,175.0L1286.8,173.6L1289.8,172.3L1292.8,171.0L1295.8,169.7L1298.8,168.5L1301.8,167.3L1304.8,166.2L1307.8,165.1L1310.8,164.1L1313.8,163.0L1316.8,162.0L1319.8,161.1L1322.8,160.1L1325.8,159.2L1328.8,158.3L1331.8,157.4L1334.8,156.5L1337.8,155.6L1340.8,154.7L1343.8,153.8L1346.8,152.9L1349.8,152.0L1352.8,151.1L1355.8,150.2L1358.8,149.3L1361.8,148.4L1364.8,147.5L1367.8,146.6L1370.8,145.7L1373.8,144.8L1376.8,143.9L1379.8,143.0L1382.8,142.1L1385.8,141.3L1388.8,140.4L1391.8,139.5L1394.8,138.6L1397.8,137.7L1400.8,136.8L1403.8,135.9L1406.8,135.0L1409.8,134.0L1412.8,133.1L1415.8,132.2L1418.8,131.3L1421.8,130.4L1424.8,129.4L1427.8,128.5L1430.8,127.4L1433.8,126.3L1436.8,125.2L1439.8,124.0L1442.8,122.7L1445.8,121.3L1448.8,119.9L1451.8,118.4L1454.8,116.9L1457.8,115.3L1460.8,113.8L1463.8,112.3L1466.8,110.8L1469.8,109.4L1472.8,108.0L1475.8,106.6L1478.8,105.3L1481.8,103.9L1484.8,102.6L1487.8,101.3L1490.8,100.0L1493.8,98.8L1496.8,97.6L1499.8,96.4L1502.8,95.2L1505.8,94.0L1508.8,92.7L1511.8,91.5L1514.8,90.2L1517.8,88.9L1520.8,87.5L1523.8,86.1L1526.8,84.7L1529.8,83.2L1532.8,81.8L1535.8,80.4L1538.8,79.1L1541.8,77.8L1544.8,76.4L1547.8,75.0L1550.8,73.5L1553.8,71.9L1556.8,70.2L1559.8,68.5L1562.8,66.7L1565.8,65.0L1568.8,63.3L1571.8,61.7L1574.8,60.0L1577.8,58.4L1580.8,56.7L1583.8,55.0L1586.8,53.4L1589.8,51.7L1592.8,50.0L1595.8,48.4L1598.8,46.8L1601.8,45.3L1604.8,43.8L1607.8,42.4L1610.8,41.0L1613.8,39.6L1616.8,38.3L1619.8,37.0L1622.8,35.7L1625.8,34.5L1628.8,33.4L1631.8,32.2L1634.8,31.1L1637.8,30.1L1640.8,29.0L1643.8,27.9L1646.8,26.9L1649.8,25.8L1652.8,24.7L1655.8,23.6L1658.8,22.4L1661.8,21.3L1664.8,20.2L1667.8,19.0L1670.8,17.8L1673.8,16.7L1676.8,15.5L1679.8,14.3L1682.8,13.2L1685.8,12.0L1688.8,10.9L1691.8,9.8L1694.8,8.7L1697.8,7.7L1700.8,6.6L1703.8,5.6L1706.8,4.7L1709.8,3.7L1712.8,2.7L1715.8,1.8L1718.8,0.8L1721.8,-0.1L1724.8,-1.1L1727.8,-2.1L1730.8,-3.2L1733.8,-4.2L1736.8,-5.2L1739.8,-6.2L1742.8,-7.2" stroke="#fff" stroke-width="5.00"/>
<path d="M-5.0,825.0L2.2,896.0L9.5,716.2L16.8,805.0L24.0,825.0L31.3,874.0L38.5,920.0L45.8,883.0L53.1,803.0L60.3,760.0L67.6,824.0L74.8,924.0L82.1,881.5L89.3,793.0L96.6,768.2L103.9,772.0L111.1,758.2L118.4,828.5L125.6,785.0L132.9,759.0L140.2,740.8L147.4,777.0L154.7,907.0L161.9,819.0L169.2,762.0L176.5,761.2L183.7,770.5L191.0,746.2L198.2,834.5L205.5,787.8L212.8,944.0L220.0,993.0L227.3,909.0L234.5,863.5L241.8,854.0L249.0,829.0L256.3,790.0L263.6,758.5L270.8,733.0L278.1,759.2L285.3,765.0L292.6,821.0L299.9,760.2L307.1,798.0L314.4,715.0L321.6,670.8L328.9,675.5L336.2,669.5L343.4,709.2L350.7,717.0L357.9,802.0L365.2,834.5L372.5,747.0L379.7,783.8L387.0,751.0L394.2,719.2L401.5,791.8L408.7,635.0L416.0,671.2L423.3,773.0L430.5,765.5L437.8,767.5L445.0,692.5L452.3,672.0L459.6,714.5L466.8,713.8L474.1,692.5L481.3,656.2L488.6,728.8L495.9,762.5L503.1,672.5L510.4,683.2L517.6,680.0L524.9,700.0L532.1,740.0L539.4,765.5L546.7,683.0L553.9,708.8L561.2,726.2L568.4,863.5L575.7,730.0L583.0,688.8L590.2,611.8L597.5,635.0L604.7,718.8L612.0,667.5L619.3,678.8L626.5,667.5L633.8,679.5L641.0,653.8L648.3,702.5L655.6,748.0L662.8,675.0L670.1,602.5L677.3,583.8L684.6,606.5L691.8,688.2L699.1,683.0L706.4,678.0L713.6,656.2L720.9,643.5L728.1,603.8L735.4,627.2L742.7,611.5L749.9,609.8L757.2,602.5L764.4,599.5L771.7,604.0L779.0,574.5L786.2,557.5L793.5,542.0L800.7,542.5L808.0,575.5L815.2,564.5L822.5,573.0L829.8,560.0L837.0,546.2L844.3,508.8L851.5,521.2L858.8,510.4L866.1,499.5L873.3,567.0L880.6,544.0L887.8,531.5L895.1,497.5L902.4,492.0L909.6,486.0L916.9,502.2L924.1,461.2L931.4,457.8L938.7,467.8L945.9,431.5L953.2,442.5L960.4,438.5L967.7,442.8L974.9,426.6L982.2,433.5L989.5,453.5L996.7,437.5L1004.0,423.3L1011.2,587.0L1018.5,462.0L1025.8,425.5L1033.0,383.1L1040.3,383.1L1047.5,348.1L1054.8,366.2L1062.1,355.0L1069.3,351.2L1076.6,375.0L1083.8,361.2L1091.1,360.0L1098.4,344.4L1105.6,355.0L1112.9,331.2L1120.1,315.0L1127.4,312.2L1134.6,314.4L1141.9,319.0L1149.2,318.6L1156.4,301.2L1163.7,286.2L1170.9,280.0L1178.2,275.0L1185.5,240.0L1192.7,244.4L1200.0,261.9L1207.2,251.2L1214.5,230.0L1221.8,231.2L1229.0,207.8L1236.3,206.9L1243.5,196.9L1250.8,194.4L1253.8,192.5L1256.8,190.5L1259.8,188.6L1262.8,186.6L1265.8,184.8L1268.8,183.0L1271.8,181.2L1274.8,179.6L1277.8,178.0L1280.8,176.5L1283.8,175.0L1286.8,173.6L1289.8,172.3L1292.8,171.0L1295.8,169.7L1298.8,168.5L1301.8,167.3L1304.8,166.2L1307.8,165.1L1310.8,164.1L1313.8,163.0L1316.8,162.0L1319.8,161.1L1322.8,160.1L1325.8,159.2L1328.8,158.3L1331.8,157.4L1334.8,156.5L1337.8,155.6L1340.8,154.7L1343.8,153.8L1346.8,152.9L1349.8,152.0L1352.8,151.1L1355.8,150.2L1358.8,149.3L1361.8,148.4L1364.8,147.5L1367.8,146.6L1370.8,145.7L1373.8,144.8L1376.8,143.9L1379.8,143.0L1382.8,142.1L1385.8,141.3L1388.8,140.4L1391.8,139.5L1394.8,138.6L1397.8,137.7L1400.8,136.8L1403.8,135.9L1406.8,135.0L1409.8,134.0L1412.8,133.1L1415.8,132.2L1418.8,131.3L1421.8,130.4L1424.8,129.4L1427.8,128.5L1430.8,127.4L1433.8,126.3L1436.8,125.2L1439.8,124.0L1442.8,122.7L1445.8,121.3L1448.8,119.9L1451.8,118.4L1454.8,116.9L1457.8,115.3L1460.8,113.8L1463.8,112.3L1466.8,110.8L1469.8,109.4L1472.8,108.0L1475.8,106.6L1478.8,105.3L1481.8,103.9L1484.8,102.6L1487.8,101.3L1490.8,100.0L1493.8,98.8L1496.8,97.6L1499.8,96.4L1502.8,95.2L1505.8,94.0L1508.8,92.7L1511.8,91.5L1514.8,90.2L1517.8,88.9L1520.8,87.5L1523.8,86.1L1526.8,84.7L1529.8,83.2L1532.8,81.8L1535.8,80.4L1538.8,79.1L1541.8,77.8L1544.8,76.4L1547.8,75.0L1550.8,73.5L1553.8,71.9L1556.8,70.2L1559.8,68.5L1562.8,66.7L1565.8,65.0L1568.8,63.3L1571.8,61.7L1574.8,60.0L1577.8,58.4L1580.8,56.7L1583.8,55.0L1586.8,53.4L1589.8,51.7L1592.8,50.0L1595.8,48.4L1598.8,46.8L1601.8,45.3L1604.8,43.8L1607.8,42.4L1610.8,41.0L1613.8,39.6L1616.8,38.3L1619.8,37.0L1622.8,35.7L1625.8,34.5L1628.8,33.4L1631.8,32.2L1634.8,31.1L1637.8,30.1L1640.8,29.0L1643.8,27.9L1646.8,26.9L1649.8,25.8L1652.8,24.7L1655.8,23.6L1658.8,22.4L1661.8,21.3L1664.8,20.2L1667.8,19.0L1670.8,17.8L1673.8,16.7L1676.8,15.5L1679.8,14.3L1682.8,13.2L1685.8,12.0L1688.8,10.9L1691.8,9.8L1694.8,8.7L1697.8,7.7L1700.8,6.6L1703.8,5.6L1706.8,4.7L1709.8,3.7L1712.8,2.7L1715.8,1.8L1718.8,0.8L1721.8,-0.1L1724.8,-1.1L1727.8,-2.1L1730.8,-3.2L1733.8,-4.2L1736.8,-5.2L1739.8,-6.2L1742.8,-7.2" stroke="#3a4b65" stroke-width="3.00"/>
</g></svg>
</body></html>
